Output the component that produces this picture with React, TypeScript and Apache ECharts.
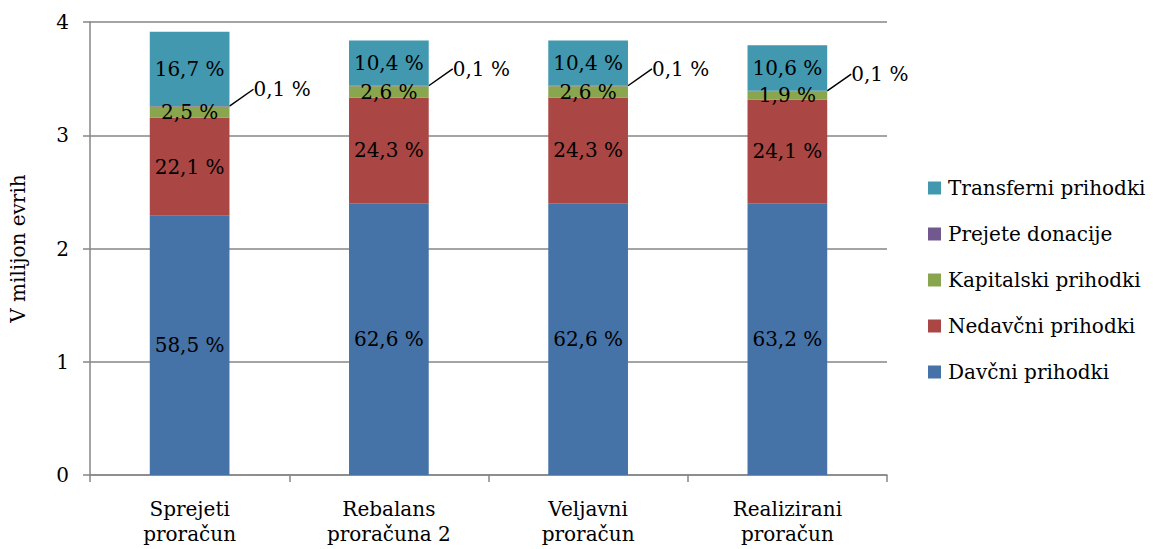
import React, { useEffect, useRef } from "react";
import * as echarts from "echarts";

const categories = ["Sprejeti\nproračun", "Rebalans\nproračuna 2", "Veljavni\nproračun", "Realizirani\nproračun"];
const davcni = [2.29, 2.40, 2.40, 2.40];
const nedavcni = [0.866, 0.933, 0.933, 0.916];
const kapitalski = [0.098, 0.1, 0.1, 0.072];
const donacije = [0.004, 0.004, 0.004, 0.004];
const transferni = [0.655, 0.399, 0.399, 0.403];

const davcniPct = ["58,5 %", "62,6 %", "62,6 %", "63,2 %"];
const nedavcniPct = ["22,1 %", "24,3 %", "24,3 %", "24,1 %"];
const kapitalskiPct = ["2,5 %", "2,6 %", "2,6 %", "1,9 %"];
const donacijePct = ["0,1 %", "0,1 %", "0,1 %", "0,1 %"];
const transferniPct = ["16,7 %", "10,4 %", "10,4 %", "10,6 %"];

const yTicks = { min: 0, max: 4, interval: 1 };

const FONT = "DejaVu Serif";
const FS = 20;

export default function App() {
  const ref = useRef<HTMLDivElement>(null);
  useEffect(() => {
    document.body.style.margin = "0";
    const chart = echarts.init(ref.current!, null, { renderer: "svg" });
    const mk = (name: string, data: number[], labels: string[], color: string, extra: any = {}) => ({
      name,
      type: "bar",
      stack: "total",
      barWidth: "40%",
      data,
      itemStyle: { color },
      label: {
        show: true,
        position: "inside",
        color: "#000",
        fontFamily: FONT,
        fontSize: FS,
        formatter: (p: any) => labels[p.dataIndex],
      },
      ...extra,
    });
    chart.setOption({
      animation: false,
      textStyle: { fontFamily: FONT },
      grid: { left: 90, right: 266, top: 22, bottom: 74 },
      legend: {
        orient: "vertical",
        left: 928,
        top: 178,
        padding: 0,
        itemWidth: 13,
        itemHeight: 13,
        itemGap: 26,
        icon: "rect",
        textStyle: { fontFamily: FONT, fontSize: FS, color: "#000", padding: [0, 0, 0, 2] },
        data: ["Transferni prihodki", "Prejete donacije", "Kapitalski prihodki", "Nedavčni prihodki", "Davčni prihodki"],
      },
      xAxis: {
        type: "category",
        data: categories,
        boundaryGap: true,
        axisLine: { lineStyle: { color: "#868686", width: 1.5 } },
        axisTick: { show: true, length: 7, lineStyle: { color: "#868686", width: 1.5 } },
        axisLabel: { color: "#000", fontFamily: FONT, fontSize: FS, lineHeight: 25, margin: 21 },
      },
      yAxis: {
        type: "value",
        min: yTicks.min,
        max: yTicks.max,
        interval: yTicks.interval,
        name: "V milijon evrih",
        nameLocation: "middle",
        nameRotate: 90,
        nameGap: 62,
        nameTextStyle: { color: "#000", fontFamily: FONT, fontSize: FS },
        axisLine: { show: true, lineStyle: { color: "#868686", width: 1.5 } },
        axisTick: { show: true, length: 7, lineStyle: { color: "#868686", width: 1.5 } },
        axisLabel: { color: "#000", fontFamily: FONT, fontSize: FS, margin: 21 },
        splitLine: { lineStyle: { color: "#868686", width: 1.5 } },
      },
      series: [
        mk("Davčni prihodki", davcni, davcniPct, "#4572A7"),
        mk("Nedavčni prihodki", nedavcni, nedavcniPct, "#AA4643"),
        mk("Kapitalski prihodki", kapitalski, kapitalskiPct, "#89A54E"),
        mk("Prejete donacije", donacije, donacijePct, "#71588F", {
          label: {
            show: true,
            position: "right",
            distance: 0,
            color: "#000",
            fontFamily: FONT,
            fontSize: FS,
            formatter: (p: any) => donacijePct[p.dataIndex],
          },
          labelLayout: { dx: 24, dy: -17 },
          labelLine: { show: true, lineStyle: { color: "#000", width: 1.5 } },
        }),
        mk("Transferni prihodki", transferni, transferniPct, "#4198AF"),
      ],
    });
    return () => chart.dispose();
  }, []);
  return <div ref={ref} style={{ width: 1153, height: 549 }} />;
}
